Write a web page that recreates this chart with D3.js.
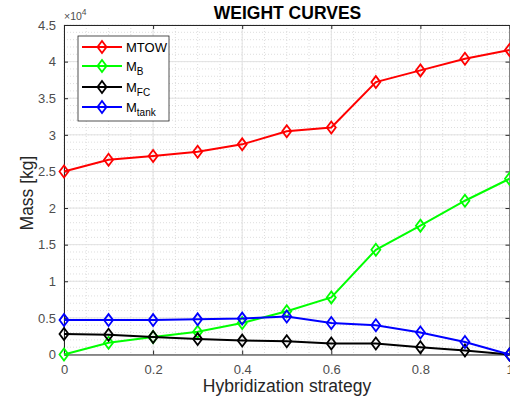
<!DOCTYPE html>
<html><head><meta charset="utf-8">
<script src="https://cdn.jsdelivr.net/npm/d3@7"></script>
<style>body{margin:0;background:#fff;} svg{display:block;font-family:"Liberation Sans",Arial,sans-serif;}</style>
</head><body>
<svg id="c" width="510" height="402"></svg>
<script>
const xVals = [0,0.1,0.2,0.3,0.4,0.5,0.6,0.7,0.8,0.9,1.0];
const mtow  = [2.50,2.66,2.71,2.77,2.87,3.05,3.10,3.72,3.88,4.04,4.16];
const mB    = [0.00,0.16,0.24,0.31,0.43,0.59,0.78,1.43,1.76,2.10,2.40];
const mFC   = [0.28,0.27,0.24,0.21,0.19,0.18,0.15,0.15,0.10,0.055,0.00];
const mTank = [0.47,0.47,0.47,0.48,0.49,0.52,0.43,0.40,0.30,0.17,0.00];
const seriesNames = ["MTOW","M|B","M|FC","M|tank"];
const seriesColors = ["#ff0000","#00ff00","#000000","#0000ff"];
const xTicks = [0,0.2,0.4,0.6,0.8,1];
const yTicks = [0,0.5,1,1.5,2,2.5,3,3.5,4,4.5];

const svg = d3.select("#c");
const L=64, R=509.5, T=25, B=354.5;
const x = d3.scaleLinear().domain([0,1]).range([L,R]);
const y = d3.scaleLinear().domain([0,4.5]).range([B,T]);

// minor grid
const g = svg.append("g");
d3.range(0,1.0001,0.05).forEach(v=>{
  g.append("line").attr("x1",x(v)).attr("x2",x(v)).attr("y1",T).attr("y2",B)
   .attr("stroke","#d0d0d0").attr("stroke-width",0.7).attr("stroke-dasharray","1,2");
});
d3.range(0,4.5001,0.1).forEach(v=>{
  g.append("line").attr("x1",L).attr("x2",R).attr("y1",y(v)).attr("y2",y(v))
   .attr("stroke","#d0d0d0").attr("stroke-width",0.7).attr("stroke-dasharray","1,2");
});
// major grid
xTicks.forEach(v=>{
  g.append("line").attr("x1",x(v)).attr("x2",x(v)).attr("y1",T).attr("y2",B)
   .attr("stroke","#e2e2e2").attr("stroke-width",1);
});
yTicks.forEach(v=>{
  g.append("line").attr("x1",L).attr("x2",R).attr("y1",y(v)).attr("y2",y(v))
   .attr("stroke","#e2e2e2").attr("stroke-width",1);
});

// axes
const axColor="#262626";
const xAxis = svg.append("g").attr("transform",`translate(0,${B})`)
  .call(d3.axisBottom(x).tickValues(xTicks).tickFormat(d3.format("~g")).tickSizeInner(-4).tickSizeOuter(0).tickPadding(10));
const yAxis = svg.append("g").attr("transform",`translate(${L},0)`)
  .call(d3.axisLeft(y).tickValues(yTicks).tickFormat(d3.format("~g")).tickSizeInner(-4).tickSizeOuter(0).tickPadding(8));
const yAxisR = svg.append("g").attr("transform",`translate(${R},0)`)
  .call(d3.axisRight(y).tickValues(yTicks).tickFormat("").tickSizeInner(-4).tickSizeOuter(0));
const xAxisT = svg.append("g").attr("transform",`translate(0,${T})`)
  .call(d3.axisTop(x).tickValues(xTicks).tickFormat("").tickSizeInner(-4).tickSizeOuter(0));
[xAxis,yAxis,yAxisR,xAxisT].forEach(a=>{
  a.selectAll("path").attr("stroke",axColor).attr("stroke-width",1);
  a.selectAll("line").attr("stroke",axColor);
  a.selectAll("text").attr("fill","#4d4d4d").attr("font-size",13).attr("font-family","Liberation Sans, Arial, sans-serif");
});

// series
const data=[mtow,mB,mFC,mTank];
const line = d3.line().x((d,i)=>x(xVals[i])).y(d=>y(d));
const diamond = (cx,cy)=>`M${cx},${cy-6}L${cx+4.5},${cy}L${cx},${cy+6}L${cx-4.5},${cy}Z`;
data.forEach((s,k)=>{
  const gs = svg.append("g");
  gs.append("path").datum(s).attr("d",line).attr("fill","none").attr("stroke",seriesColors[k]).attr("stroke-width",2);
  gs.selectAll("path.m").data(s).enter().append("path").attr("class","m")
    .attr("d",(d,i)=>diamond(x(xVals[i]),y(d))).attr("fill","none").attr("stroke",seriesColors[k]).attr("stroke-width",1.8);
});

// title & labels
svg.append("text").attr("x",287.5).attr("y",19).attr("text-anchor","middle").attr("font-weight","bold")
  .attr("font-size",17.5).attr("fill","#000").text("WEIGHT CURVES");
const ex = svg.append("text").attr("x",64).attr("y",20).attr("font-size",10.5).attr("fill","#4d4d4d");
ex.append("tspan").text("\u00d710");
ex.append("tspan").attr("dy",-5).attr("font-size",8.5).text("4");
svg.append("text").attr("x",287).attr("y",392).attr("text-anchor","middle").attr("font-size",17.5).attr("fill","#262626").text("Hybridization strategy");
svg.append("text").attr("transform","translate(33,193) rotate(-90)").attr("text-anchor","middle").attr("font-size",17.5).attr("fill","#262626").text("Mass [kg]");

// legend
const lg = svg.append("g");
lg.append("rect").attr("x",78).attr("y",36).attr("width",91).attr("height",85).attr("fill","#fff").attr("stroke","#262626").attr("stroke-width",0.8);
const ly=[47,66,87,107];
seriesNames.forEach((n,k)=>{
  lg.append("line").attr("x1",82).attr("x2",122).attr("y1",ly[k]).attr("y2",ly[k]).attr("stroke",seriesColors[k]).attr("stroke-width",2);
  lg.append("path").attr("d",diamond(102,ly[k])).attr("fill","none").attr("stroke",seriesColors[k]).attr("stroke-width",1.8);
  const parts=n.split("|");
  const t=lg.append("text").attr("x",126).attr("y",ly[k]+5).attr("font-size",13).attr("fill","#000");
  t.append("tspan").text(parts[0]);
  if(parts[1]) t.append("tspan").attr("dy",4).attr("font-size",10).text(parts[1]);
});
</script>
</body></html>
